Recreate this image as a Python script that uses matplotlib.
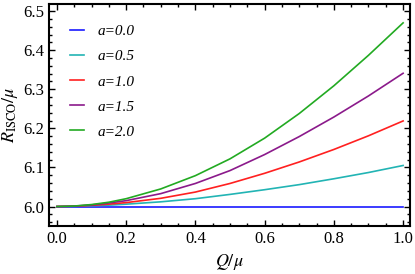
import matplotlib
matplotlib.use("Agg")
from matplotlib import pyplot as plt
from matplotlib.ticker import MultipleLocator
import numpy as np

plt.rcParams['font.family'] = ['Liberation Serif', 'DejaVu Serif']
plt.rcParams['mathtext.fontset'] = 'stix'

# Q/mu sample points
q = [0.0, 0.05, 0.1, 0.15, 0.2, 0.3, 0.4, 0.5, 0.6, 0.7, 0.8, 0.9, 1.0]

# R_ISCO/mu for each spin value
r_a00 = [6.0, 6.0, 6.0, 6.0, 6.0, 6.0, 6.0, 6.0, 6.0, 6.0, 6.0, 6.0, 6.0]
r_a05 = [6.0, 6.0005, 6.002, 6.0035, 6.006, 6.012, 6.020, 6.031, 6.043, 6.056, 6.071, 6.087, 6.105]
r_a10 = [6.0, 6.0008, 6.003, 6.006, 6.010, 6.021, 6.037, 6.059, 6.085, 6.114, 6.146, 6.181, 6.219]
r_a15 = [6.0, 6.001, 6.004, 6.009, 6.015, 6.033, 6.059, 6.092, 6.133, 6.179, 6.229, 6.283, 6.341]
r_a20 = [6.0, 6.0012, 6.005, 6.011, 6.020, 6.045, 6.079, 6.122, 6.175, 6.238, 6.309, 6.387, 6.470]

labels = ['a=0.0', 'a=0.5', 'a=1.0', 'a=1.5', 'a=2.0']
colors = ['#1a1aff', '#22b4b4', '#ff2020', '#8b1a8b', '#22aa22']
series = [r_a00, r_a05, r_a10, r_a15, r_a20]

fig = plt.figure(figsize=(4.15, 2.74), dpi=100)
ax = fig.add_axes([0.118, 0.175, 0.870, 0.810])

for ys, c, lab in zip(series, colors, labels):
    ax.plot(q, ys, color=c, lw=1.2, label=lab)

ax.set_xlim(-0.023, 1.02)
ax.set_ylim(5.95, 6.518)
ax.xaxis.set_major_locator(MultipleLocator(0.2))
ax.xaxis.set_minor_locator(MultipleLocator(0.05))
ax.yaxis.set_major_locator(MultipleLocator(0.1))
ax.yaxis.set_minor_locator(MultipleLocator(0.02))
ax.xaxis.set_major_formatter(matplotlib.ticker.FormatStrFormatter('%.1f'))
ax.yaxis.set_major_formatter(matplotlib.ticker.FormatStrFormatter('%.1f'))
ax.tick_params(which='both', direction='in', top=True, right=True, labelsize=12, width=1.0)
ax.tick_params(which='major', length=4)
ax.tick_params(which='minor', length=2)
for s in ax.spines.values():
    s.set_linewidth(1.5)

ax.set_xlabel(r'$Q/\mu$', fontsize=13, labelpad=4)
ax.set_ylabel(r'$R_{\rm ISCO}/\mu$', fontsize=13, labelpad=2)

leg = ax.legend(loc='upper left', bbox_to_anchor=(0.02, 0.97), frameon=False,
                handlelength=0.9, handletextpad=0.9, labelspacing=0.75,
                prop={'family': 'Liberation Serif', 'style': 'italic', 'size': 11})

fig.savefig('out.png', dpi=100)
